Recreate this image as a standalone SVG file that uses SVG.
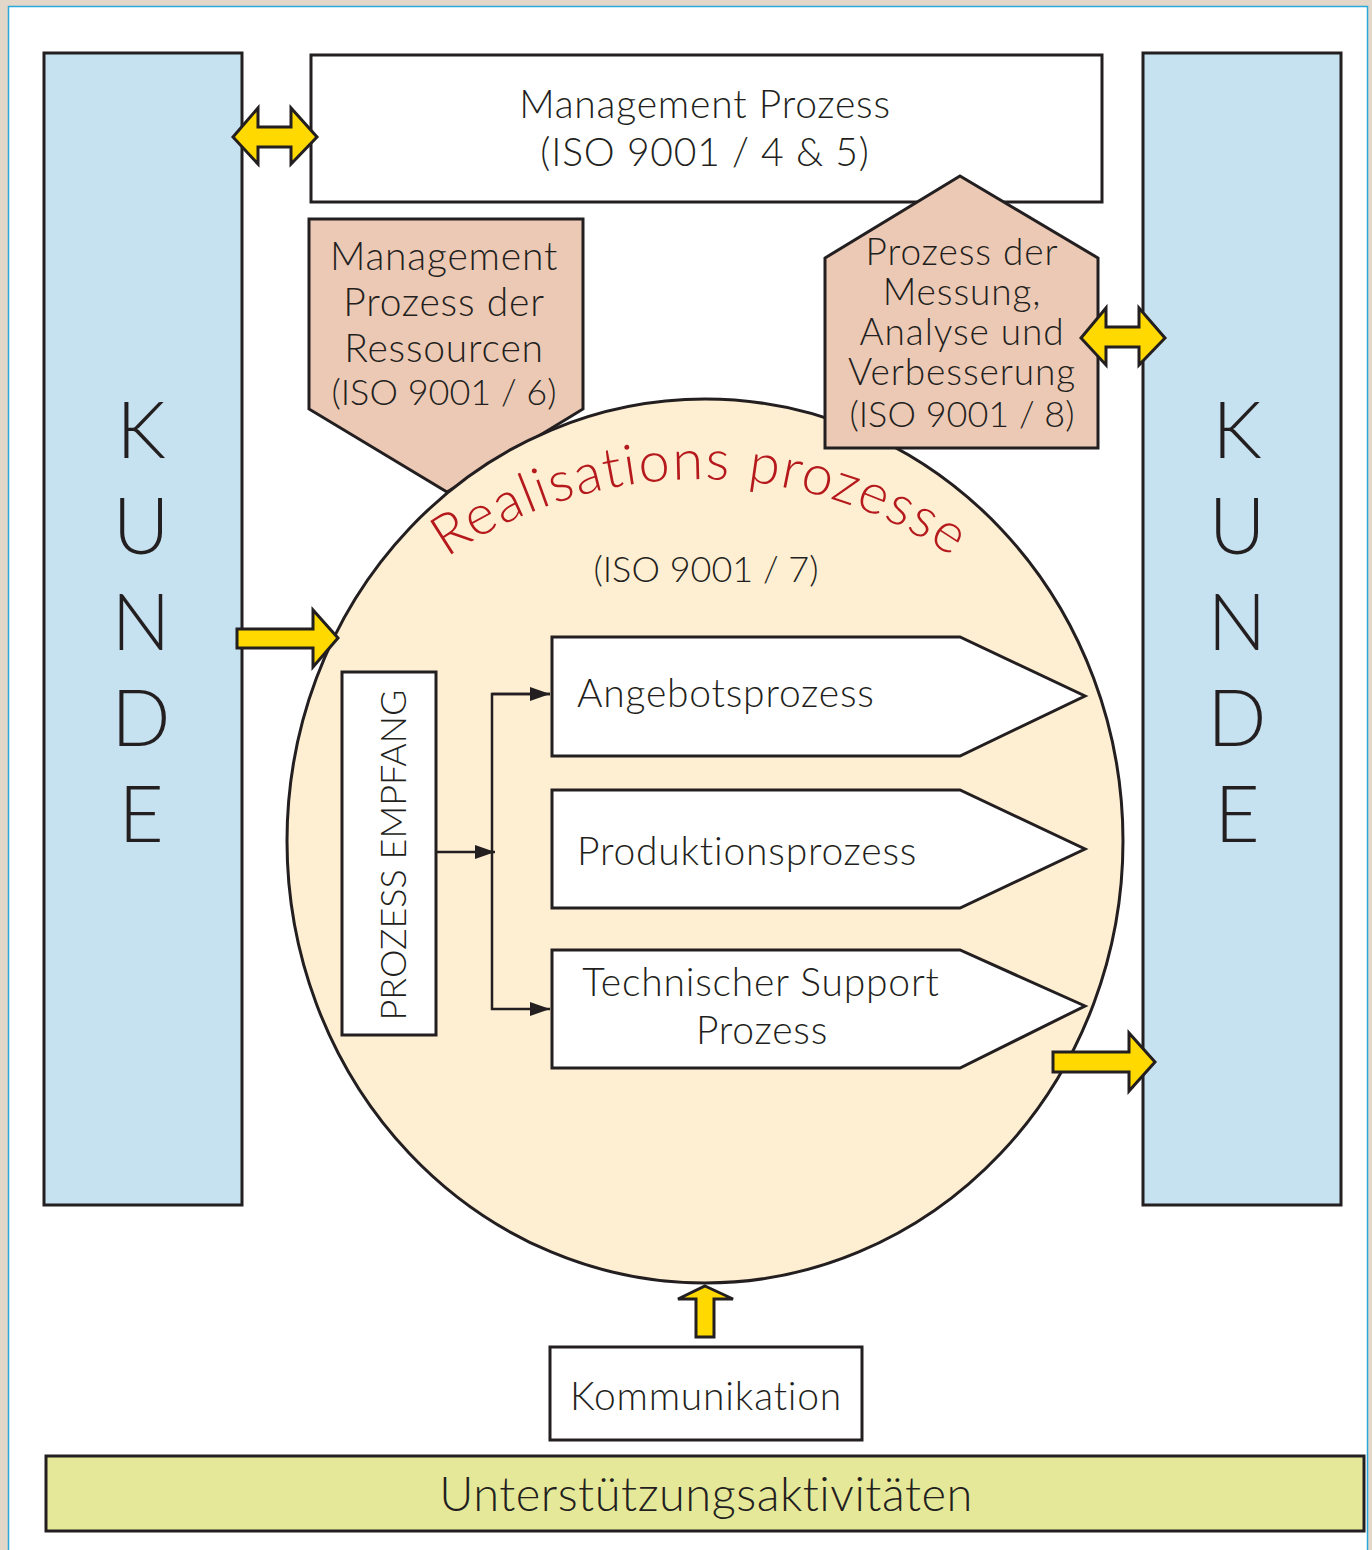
<svg xmlns="http://www.w3.org/2000/svg" width="1372" height="1550" viewBox="0 0 1372 1550">
<style>
.ln{stroke:#231f20;stroke-width:3;}
.kunde{fill:#c6e2f0;}
.pent{fill:#ecc9b5;}
.yel{fill:#ffd900;stroke:#231f20;stroke-width:3;stroke-linejoin:miter;}
.t{font-family:Lato,"Noto Sans",sans-serif;font-weight:300;fill:#231f20;text-anchor:middle;}
.tl{font-family:Lato,"Noto Sans",sans-serif;font-weight:300;fill:#231f20;}
.k{font-size:78px;}
.m{font-size:39px;letter-spacing:0.8px;}
.s{font-size:37px;letter-spacing:0.9px;}
.iso{font-size:36px;letter-spacing:0;}
</style>
<defs>
<marker id="ah2" viewBox="0 0 20 14" refX="20" refY="7" markerWidth="20" markerHeight="14" markerUnits="userSpaceOnUse" orient="auto">
<path d="M0,0 L20,7 L0,14 z" fill="#231f20"/>
</marker>
<path id="arc" d="M 313,702.5 A 447,447 0 0 1 1087,702.5" fill="none"/>
</defs>
<rect x="0" y="0" width="1372" height="1550" fill="#e3d7c9"/>
<rect x="8.5" y="6.5" width="1359" height="1560" fill="#ffffff" stroke="#29a8dc" stroke-width="1.5"/>

<g id="kunde-left">
<rect class="kunde ln" x="44" y="53" width="198" height="1152"/>
<text class="t k" x="141" y="458">K</text>
<text class="t k" x="141" y="554">U</text>
<text class="t k" x="141" y="650">N</text>
<text class="t k" x="141" y="746">D</text>
<text class="t k" x="141" y="842">E</text>
</g>
<g id="kunde-right">
<rect class="kunde ln" x="1143" y="53" width="198" height="1152"/>
<text class="t k" x="1237" y="458">K</text>
<text class="t k" x="1237" y="554">U</text>
<text class="t k" x="1237" y="650">N</text>
<text class="t k" x="1237" y="746">D</text>
<text class="t k" x="1237" y="842">E</text>
</g>

<g id="management">
<rect class="ln" x="311" y="55" width="791" height="147" fill="#ffffff"/>
<text class="t m" x="705" y="118">Management Prozess</text>
<text class="t m" x="705" y="166" letter-spacing="0">(ISO 9001 / 4 &amp; 5)</text>
</g>

<g id="ressourcen">
<polygon class="pent ln" points="309,219 583,219 583,409 447,492 309,409"/>
<text class="t m" x="444" y="270">Management</text>
<text class="t m" x="444" y="316">Prozess der</text>
<text class="t m" x="444" y="362">Ressourcen</text>
<text class="t iso" x="444" y="405">(ISO 9001 / 6)</text>
</g>

<g id="realisation">
<ellipse class="ln" cx="705" cy="841" rx="418" ry="442" fill="#feeed2"/>
<text font-family="Lato,'Noto Sans',sans-serif" font-weight="300" font-size="56" fill="#b5191c" text-anchor="middle" letter-spacing="1.5"><textPath href="#arc" startOffset="50%">Realisations prozesse</textPath></text>
<text class="t iso" x="706" y="582">(ISO 9001 / 7)</text>
</g>

<g id="messung">
<polygon class="pent ln" points="960,176 1098,258 1098,448 825,448 825,258"/>
<text class="t s" x="962" y="265">Prozess der</text>
<text class="t s" x="962" y="305">Messung,</text>
<text class="t s" x="962" y="345">Analyse und</text>
<text class="t s" x="962" y="385">Verbesserung</text>
<text class="t iso" x="962" y="427">(ISO 9001 / 8)</text>
</g>

<g id="empfang">
<rect class="ln" x="342" y="672" width="94" height="363" fill="#ffffff"/>
<text class="t" font-size="36" transform="translate(406,855) rotate(-90)">PROZESS EMPFANG</text>
</g>

<g id="angebot">
<polygon class="ln" points="552,637 960,637 1085,696 960,756 552,756" fill="#ffffff"/>
<text class="tl m" x="577" y="707">Angebotsprozess</text>
</g>
<g id="produktion">
<polygon class="ln" points="552,790 960,790 1085,849 960,908 552,908" fill="#ffffff"/>
<text class="tl m" x="577" y="865">Produktionsprozess</text>
</g>
<g id="support">
<polygon class="ln" points="552,950 960,950 1085,1006 960,1068 552,1068" fill="#ffffff"/>
<text class="t m" x="761" y="996">Technischer Support</text>
<text class="t m" x="762" y="1044">Prozess</text>
</g>

<g id="kommunikation">
<rect class="ln" x="550" y="1347" width="312" height="93" fill="#ffffff"/>
<text class="t m" x="706" y="1410">Kommunikation</text>
</g>

<g id="unterstuetzung">
<rect class="ln" x="46" y="1456" width="1318" height="75" fill="#e6e899" stroke-width="4"/>
<text class="t" font-size="47" letter-spacing="0.5" x="706" y="1511">Unterstützungsaktivitäten</text>
</g>

<g id="connectors" fill="none" stroke="#231f20" stroke-width="2.5">
<line x1="436" y1="852" x2="495" y2="852" marker-end="url(#ah2)"/>
<polyline points="550,694 492,694 492,1009 550,1009" marker-end="url(#ah2)"/>
<line x1="492" y1="694" x2="550" y2="694" marker-end="url(#ah2)"/>
<polygon class="yel" points="233,137 258,108 258,127 291,127 291,108 317,137 291,164 291,147 258,147 258,164"/>
<polygon class="yel" points="1081,338 1106,308 1106,327 1139,327 1139,308 1165,338 1139,365 1139,347 1106,347 1106,365"/>
<polygon class="yel" points="237,629 313,629 313,610 338,638 313,667 313,648 237,648"/>
<polygon class="yel" points="1053,1052 1129,1052 1129,1033 1155,1062 1129,1091 1129,1072 1053,1072"/>
<polygon class="yel" points="705,1286 733,1299 714,1299 714,1337 696,1337 696,1299 678,1299"/>
</g>
</svg>
